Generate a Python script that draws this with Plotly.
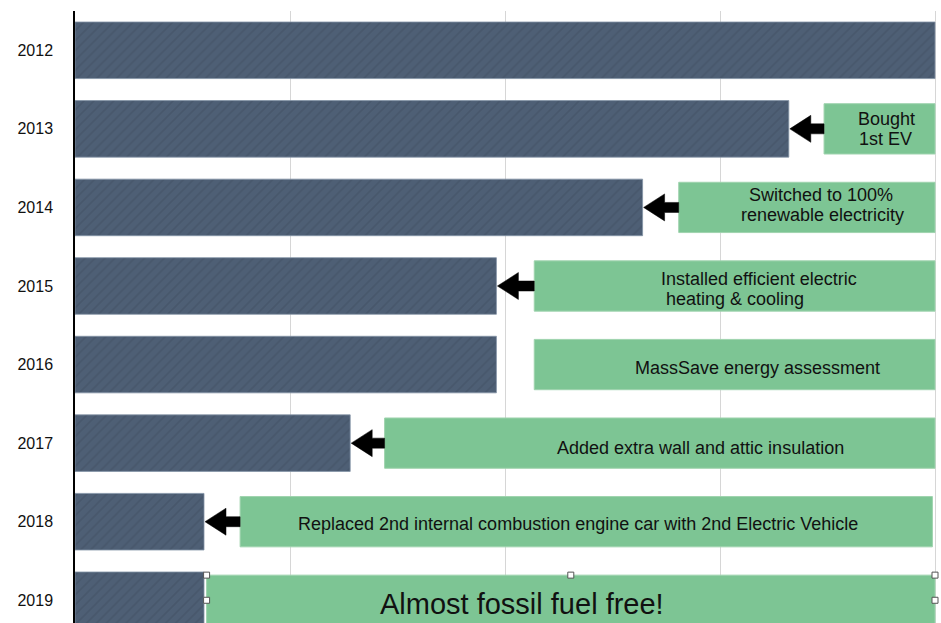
import plotly.graph_objects as go

# ---------------- data ----------------
years = ["2012", "2013", "2014", "2015", "2016", "2017", "2018", "2019"]
footprint = [100, 83, 66, 49, 49, 32, 15, 15]          # relative carbon footprint (%)
milestones = [
    None,
    ["Bought", "1st EV"],
    ["Switched to 100%", "renewable electricity"],
    ["Installed efficient electric", "heating & cooling"],
    ["MassSave energy assessment"],
    ["Added extra wall and attic insulation"],
    ["Replaced 2nd internal combustion engine car with 2nd Electric Vehicle"],
    ["Almost fossil fuel free!"],
]
box_start = [None, 87.1, 70.2, 53.4, 53.4, 36.0, 19.2, 15.3]
box_end = [None, 100, 100, 100, 100, 100, 99.7, 100]
has_arrow = [False, True, True, True, False, True, True, False]

# ---------------- text placement (style) ----------------
label_x = [None, [94.4, 94.2], [86.7, 86.9], [67.9, 68.5], [79.4], [72.7], [58.5], [52.0]]
label_anchor = [None, "center", "center", "left", "center", "center", "center", "center"]
label_size = [None, 18, 18, 18, 18, 18, 18, 29]
label_dy = [None, 0, 2, -3, -3, -5, -2, -4]   # pixel shift of block centre (up positive)
line_gap = 20

# ---------------- layout constants ----------------
W, H = 941, 623
PLOT_L, PLOT_R = 75, 941               # plot area in screen pixels
ML, MR, MT, MB = PLOT_L, W - PLOT_R, 11, 0
px_x = 8.6                             # pixels per x unit (100 -> gridline at 935)
x_max = (PLOT_R - PLOT_L) / px_x
cat_px = 78.57                         # pixels per category
y_top = -0.5
y_bot = y_top + (H - MT - MB) / cat_px
py = 1.0 / cat_px                      # y units per pixel

ypos = list(range(len(years)))
FONT = "Liberation Sans, Arial, Helvetica, sans-serif"

fig = go.Figure()
fig.add_trace(go.Bar(
    x=footprint, y=ypos, orientation="h", width=0.72,
    marker=dict(
        color="#4e5f75",
        line=dict(color="#8393a6", width=0.8),
        pattern=dict(shape="/", fgcolor="#3f4d60", fgopacity=0.45, size=7, solidity=0.25),
    ),
    hoverinfo="skip", showlegend=False,
))

shapes = []
annotations = []
green = "#7dc594"
box_h = 0.64
for i, lines in enumerate(milestones):
    if lines is None:
        continue
    shapes.append(dict(type="rect", xref="x", yref="y",
                       x0=box_start[i], x1=box_end[i],
                       y0=ypos[i] - box_h / 2, y1=ypos[i] + box_h / 2,
                       fillcolor=green, line=dict(color="#9fd3ae", width=1), layer="above"))
    n = len(lines)
    for k, line in enumerate(lines):
        off = ((n - 1) / 2 - k) * line_gap + label_dy[i]
        annotations.append(dict(x=label_x[i][k], y=ypos[i], xref="x", yref="y",
                                text=line, showarrow=False, xanchor=label_anchor[i],
                                yanchor="middle", yshift=off,
                                font=dict(family=FONT, size=label_size[i], color="#111111")))
    if has_arrow[i]:
        tip = footprint[i] + 1.0 / px_x
        base = tip + 21 / px_x
        end = box_start[i]
        yc = ypos[i]
        hh = 13.5 * py
        sh = 5.0 * py
        path = (f"M {tip},{yc} L {base},{yc - hh} L {base},{yc - sh} L {end},{yc - sh} "
                f"L {end},{yc + sh} L {base},{yc + sh} L {base},{yc + hh} Z")
        shapes.append(dict(type="path", xref="x", yref="y", path=path,
                           fillcolor="black", line=dict(color="black", width=0.5), layer="above"))

# selection handles around the last box
last = len(years) - 1
hx = [box_start[last], (box_start[last] + box_end[last]) / 2, box_end[last], box_start[last], box_end[last]]
hy = [ypos[last] - box_h / 2] * 3 + [ypos[last]] * 2
for xx, yy in zip(hx, hy):
    shapes.append(dict(type="rect", xref="x", yref="y", xsizemode="pixel", ysizemode="pixel",
                       xanchor=xx, yanchor=yy, x0=-3, x1=3, y0=-3, y1=3,
                       fillcolor="white", line=dict(color="#555555", width=1), layer="above"))

fig.update_layout(
    width=W, height=H,
    margin=dict(l=ML, r=MR, t=MT, b=MB, autoexpand=False),
    paper_bgcolor="white", plot_bgcolor="white",
    shapes=shapes, annotations=annotations,
    xaxis=dict(range=[0, x_max], tickvals=[0, 25, 50, 75, 100], showticklabels=False,
               showgrid=True, gridcolor="#d6d6d6", gridwidth=1, zeroline=False,
               showline=False, ticks=""),
    yaxis=dict(range=[y_bot, y_top], tickvals=ypos, ticktext=years, automargin=False,
               showgrid=False, zeroline=False, showline=True, linecolor="black", linewidth=1.5,
               ticks="", ticklabelstandoff=17,
               tickfont=dict(family=FONT, size=16, color="#111111")),
)

fig.write_html(
    "out.html",
    config={"displayModeBar": False},
    post_script="document.body.style.margin='0';document.body.style.overflow='hidden';",
)
